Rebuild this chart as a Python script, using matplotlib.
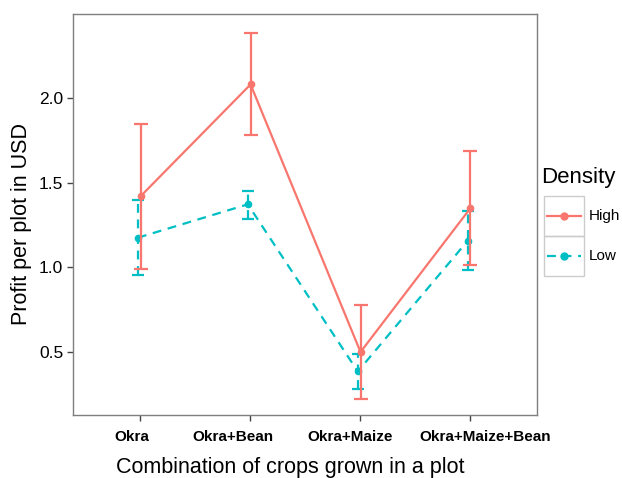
import matplotlib
matplotlib.use("Agg")
import matplotlib.pyplot as plt
import matplotlib.transforms as mtransforms
from matplotlib.patches import Rectangle
from matplotlib.lines import Line2D
import numpy as np

plt.rcParams['font.family'] = ['Liberation Sans', 'DejaVu Sans']

categories = ["Okra", "Okra+Bean", "Okra+Maize", "Okra+Maize+Bean"]
high_mean = [1.42, 2.08, 0.50, 1.35]
high_lo = [0.99, 1.78, 0.225, 1.015]
high_hi = [1.845, 2.385, 0.78, 1.687]
low_mean = [1.175, 1.372, 0.385, 1.157]
low_lo = [0.953, 1.285, 0.28, 0.984]
low_hi = [1.398, 1.451, 0.49, 1.334]

high_col = "#F8766D"
low_col = "#00BFC4"

W, H = 622, 478
fig = plt.figure(figsize=(W / 100, H / 100), dpi=100)
ax = fig.add_axes([73 / W, 1 - 415 / H, (537 - 73) / W, (415 - 14) / H])

x = np.arange(1, len(categories) + 1)
xh = x + 0.005
xl = x - 0.02

hm = np.array(high_mean); lm = np.array(low_mean)
ax.errorbar(xh, hm, yerr=[hm - np.array(high_lo), np.array(high_hi) - hm],
            color=high_col, lw=1.6, capsize=5, capthick=1.6, marker='o', ms=4.5,
            linestyle='-', zorder=3)
eb = ax.errorbar(xl, lm, yerr=[lm - np.array(low_lo), np.array(low_hi) - lm],
                 color=low_col, lw=1.6, capsize=4, capthick=1.6, marker='o', ms=4.5,
                 linestyle=(0, (4, 3)), zorder=2)
for b in eb[2]:
    b.set_linestyle((0, (4, 3)))

ax.set_xlim(0.39, 4.61)
ax.set_ylim(0.128, 2.496)
ax.set_xticks(x)
ax.set_xticklabels([])
# the reference's tick labels sit slightly off-centre from their ticks
label_shift_px = [-8, -17, -10, 15]
base = mtransforms.blended_transform_factory(ax.transData, ax.transAxes)
for xi, cat, dx in zip(x, categories, label_shift_px):
    tr = base + mtransforms.ScaledTranslation(dx / 100, -22 / 100, fig.dpi_scale_trans)
    ax.text(xi, 0, cat, transform=tr, ha='center', va='center',
            fontsize=11, fontweight='bold', clip_on=False)
ax.set_yticks([0.5, 1.0, 1.5, 2.0])
ax.set_yticklabels(["0.5", "1.0", "1.5", "2.0"], fontsize=12.5)
for s in ax.spines.values():
    s.set_color("#7f7f7f")
    s.set_linewidth(1.0)
ax.tick_params(axis='both', color="#444444", length=4, width=1, direction='out')
ax.tick_params(axis='y', pad=3)

fig.text(290 / W, 1 - 467 / H, "Combination of crops grown in a plot",
         ha='center', va='center', fontsize=15.5)
fig.text(22 / W, 1 - 224 / H, "Profit per plot in USD", rotation=90,
         ha='center', va='center', fontsize=15.5)

# legend
fig.text(541 / W, 1 - 178 / H, "Density", ha='left', va='center', fontsize=16)
for i, (lab, col, ls) in enumerate([("High", high_col, '-'), ("Low", low_col, (0, (4, 3)))]):
    y0 = 196 + 40 * i
    fig.add_artist(Rectangle((544 / W, 1 - (y0 + 40) / H), 40 / W, 40 / H,
                             transform=fig.transFigure, fill=False,
                             edgecolor="#cccccc", lw=1.0))
    yc = 1 - (y0 + 20) / H
    fig.add_artist(Line2D([547 / W, 581 / W], [yc, yc], transform=fig.transFigure,
                          color=col, lw=1.6, linestyle=ls))
    fig.add_artist(Line2D([564 / W], [yc], transform=fig.transFigure,
                          color=col, marker='o', ms=5, linestyle='none'))
    fig.text(589 / W, yc, lab, ha='left', va='center', fontsize=11)

fig.savefig("out.png", dpi=100)
